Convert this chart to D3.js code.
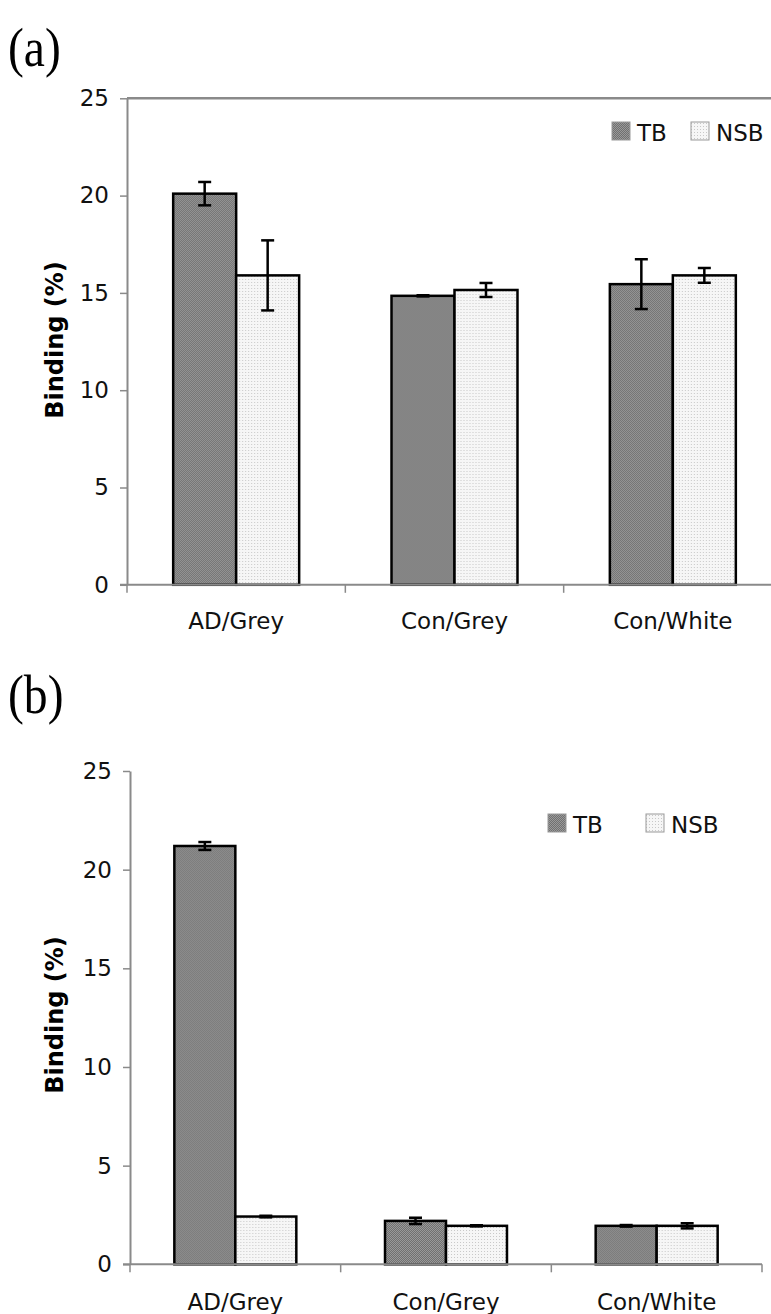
<!DOCTYPE html>
<html>
<head>
<meta charset="utf-8">
<script src="https://cdn.jsdelivr.net/npm/d3@7"></script>
<style>
  body { margin: 0; background: #fff; }
  svg { display: block; }
</style>
</head>
<body>
<div id="chart"></div>
<script>
// categories and series
var categories = ["AD/Grey", "Con/Grey", "Con/White"];
var seriesNames = ["TB", "NSB"];
var yTicks = [0, 5, 10, 15, 20, 25];

// panel (a) values, % binding
var tbA = [20.1, 14.85, 15.45];
var tbErrA = [0.6, 0.03, 1.28];
var nsbA = [15.9, 15.15, 15.9];
var nsbErrA = [1.8, 0.36, 0.38];

// panel (b) values, % binding
var tbB = [21.2, 2.2, 1.95];
var tbErrB = [0.2, 0.16, 0.04];
var nsbB = [2.42, 1.95, 1.95];
var nsbErrB = [0.04, 0.03, 0.13];

var W = 771, H = 1314;
var svg = d3.select("#chart").append("svg")
    .attr("width", W)
    .attr("height", H);

// fill patterns that mimic the printed dither
var defs = svg.append("defs");
var pTB = defs.append("pattern")
    .attr("id", "patTB")
    .attr("patternUnits", "userSpaceOnUse")
    .attr("width", 2).attr("height", 2);
pTB.append("rect").attr("width", 2).attr("height", 2).attr("fill", "#999");
pTB.append("rect").attr("width", 1).attr("height", 1).attr("fill", "#707070");
pTB.append("rect").attr("x", 1).attr("y", 1).attr("width", 1).attr("height", 1).attr("fill", "#707070");

var pNSB = defs.append("pattern")
    .attr("id", "patNSB")
    .attr("patternUnits", "userSpaceOnUse")
    .attr("width", 3).attr("height", 3);
pNSB.append("rect").attr("width", 3).attr("height", 3).attr("fill", "#f6f6f6");
pNSB.append("rect").attr("width", 1).attr("height", 1).attr("fill", "#c8c8c8");

var fills = { TB: "url(#patTB)", NSB: "url(#patNSB)" };
var font = "'DejaVu Sans', Verdana, sans-serif";

function drawPanel(opt) {
    var tb = opt.tb, tbErr = opt.tbErr, nsb = opt.nsb, nsbErr = opt.nsbErr;

    var data = categories.map(function (c, i) {
        return {
            cat: c,
            values: [
                { key: "TB", value: tb[i], err: tbErr[i] },
                { key: "NSB", value: nsb[i], err: nsbErr[i] }
            ]
        };
    });

    var y = d3.scaleLinear().domain([0, 25]).range([opt.y0, opt.y25]);

    var x0 = d3.scaleBand()
        .domain(categories)
        .range([opt.xLeft, opt.xRight])
        .paddingInner(opt.pad)
        .paddingOuter(opt.pad / 2);

    var x1 = d3.scaleBand()
        .domain(seriesNames)
        .range([0, x0.bandwidth()]);

    var g = svg.append("g");

    // panel letter
    g.append("text")
        .attr("transform", "translate(8," + opt.letterY + ") scale(0.85,1)")
        .style("font-family", "'Liberation Serif', 'Times New Roman', serif")
        .style("font-size", "56px")
        .text(opt.letter);

    // top border of plot area (panel a only)
    if (opt.frame) {
        g.append("line")
            .attr("x1", opt.xLeft).attr("x2", opt.xRight)
            .attr("y1", y(25)).attr("y2", y(25))
            .style("stroke", "#8a8a8a")
            .style("stroke-width", 2.5);
    }

    // y axis
    var yAxis = g.append("g")
        .attr("transform", "translate(" + opt.xLeft + ",0)")
        .call(d3.axisLeft(y).tickValues(yTicks).tickSize(7).tickPadding(11).tickSizeOuter(0));
    yAxis.select(".domain").style("stroke", "#8a8a8a").style("stroke-width", 2);
    yAxis.selectAll(".tick line").style("stroke", "#8a8a8a").style("stroke-width", 1.5);
    yAxis.selectAll(".tick text")
        .style("font-family", font)
        .style("font-size", "23px")
        .style("fill", "#111");

    // axis title
    g.append("text")
        .attr("transform", "translate(" + 63 + "," + opt.titleY + ") rotate(-90)")
        .attr("text-anchor", "middle")
        .style("font-family", font)
        .style("font-size", "24px")
        .style("font-weight", "bold")
        .text("Binding (%)");

    // bars
    var groups = g.selectAll(".grp")
        .data(data)
        .enter().append("g")
        .attr("class", "grp")
        .attr("transform", function (d) { return "translate(" + x0(d.cat) + ",0)"; });

    groups.selectAll("rect")
        .data(function (d) { return d.values; })
        .enter().append("rect")
        .attr("x", function (d) { return x1(d.key); })
        .attr("y", function (d) { return y(d.value); })
        .attr("width", x1.bandwidth())
        .attr("height", function (d) { return y(0) - y(d.value); })
        .style("fill", function (d) { return fills[d.key]; })
        .style("stroke", "#000")
        .style("stroke-width", 2.5);

    // error bars
    var capW = 13;
    var eb = groups.selectAll(".err")
        .data(function (d) { return d.values; })
        .enter().append("g")
        .attr("class", "err")
        .style("stroke", "#000")
        .style("stroke-width", 2.5);
    eb.append("line")
        .attr("x1", function (d) { return x1(d.key) + x1.bandwidth() / 2; })
        .attr("x2", function (d) { return x1(d.key) + x1.bandwidth() / 2; })
        .attr("y1", function (d) { return y(d.value + d.err); })
        .attr("y2", function (d) { return y(d.value - d.err); });
    eb.append("line")
        .attr("x1", function (d) { return x1(d.key) + x1.bandwidth() / 2 - capW / 2; })
        .attr("x2", function (d) { return x1(d.key) + x1.bandwidth() / 2 + capW / 2; })
        .attr("y1", function (d) { return y(d.value + d.err); })
        .attr("y2", function (d) { return y(d.value + d.err); });
    eb.append("line")
        .attr("x1", function (d) { return x1(d.key) + x1.bandwidth() / 2 - capW / 2; })
        .attr("x2", function (d) { return x1(d.key) + x1.bandwidth() / 2 + capW / 2; })
        .attr("y1", function (d) { return y(d.value - d.err); })
        .attr("y2", function (d) { return y(d.value - d.err); });

    // x axis line
    g.append("line")
        .attr("x1", opt.xLeft - 7).attr("x2", opt.xRight)
        .attr("y1", y(0)).attr("y2", y(0))
        .style("stroke", "#8a8a8a")
        .style("stroke-width", 2);

    // category boundary ticks
    var bounds = categories.map(function (c) { return x0(c) - x0.step() * x0.paddingOuter(); });
    bounds.push(opt.xRight);
    g.selectAll(".ctick")
        .data(bounds)
        .enter().append("line")
        .attr("x1", function (d) { return d; })
        .attr("x2", function (d) { return d; })
        .attr("y1", y(0))
        .attr("y2", y(0) + 8)
        .style("stroke", "#8a8a8a")
        .style("stroke-width", 1.5);

    // category labels
    g.selectAll(".clab")
        .data(categories)
        .enter().append("text")
        .attr("x", function (c) { return x0(c) + x0.bandwidth() / 2; })
        .attr("y", y(0) + opt.labelDy)
        .attr("text-anchor", "middle")
        .style("font-family", font)
        .style("font-size", "23px")
        .style("fill", "#111")
        .text(function (c) { return c; });

    // legend
    var leg = g.selectAll(".leg")
        .data(seriesNames)
        .enter().append("g")
        .attr("transform", function (d, i) {
            return "translate(" + opt.legX[i] + "," + opt.legY + ")";
        });
    leg.append("rect")
        .attr("x", 0).attr("y", -19)
        .attr("width", 18).attr("height", 18)
        .style("fill", function (d) { return fills[d]; })
        .style("stroke", "#999")
        .style("stroke-width", 1);
    leg.append("text")
        .attr("x", 25)
        .attr("y", 0)
        .style("font-family", font)
        .style("font-size", "23px")
        .style("fill", "#111")
        .text(function (d) { return d; });
}

drawPanel({
    letter: "(a)", letterY: 66,
    tb: tbA, tbErr: tbErrA, nsb: nsbA, nsbErr: nsbErrA,
    xLeft: 127, xRight: 782, pad: 0.423,
    y0: 584.8, y25: 98.3,
    frame: true,
    titleY: 340,
    labelDy: 44,
    legX: [612, 691], legY: 141
});

drawPanel({
    letter: "(b)", letterY: 713,
    tb: tbB, tbErr: tbErrB, nsb: nsbB, nsbErr: nsbErrB,
    xLeft: 130, xRight: 762, pad: 0.421,
    y0: 1264.3, y25: 771,
    frame: false,
    titleY: 1015,
    labelDy: 46,
    legX: [548, 646], legY: 833
});
</script>
</body>
</html>
